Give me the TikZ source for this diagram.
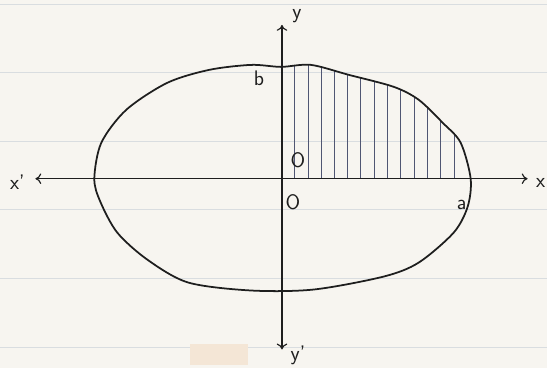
\documentclass[tikz,border=0pt]{standalone}
\usetikzlibrary{arrows.meta}
\definecolor{paper}{HTML}{F7F5F0}
\definecolor{ruled}{HTML}{D9DDE0}
\definecolor{smudge}{HTML}{F4E6D6}
\definecolor{pen}{HTML}{1E1E1E}
\definecolor{hatchpen}{HTML}{505673}
\begin{document}
\begin{tikzpicture}[x=0.03cm, y=-0.03cm, >={To[length=5pt,width=9pt]},
  lbl/.style={font=\sffamily\fontsize{18}{18}\selectfont, inner sep=0pt, text=pen},
  axis/.style={draw=pen, line width=1pt},
  curve/.style={draw=pen, line width=1.5pt, line join=round},
  hatch/.style={draw=hatchpen, line width=0.7pt}]

% Papier
\fill[paper] (0,0) rectangle (547,369);
\foreach \yy in {4,73,142,210,279,348}
  \draw[ruled, line width=0.8pt] (0,\yy) -- (547,\yy);
\fill[smudge] (190,345) rectangle (248,366);

% Contour
\def\contour{plot[smooth cycle, tension=0.5] coordinates {
  (251,65) (281,67) (311,65) (349,75) (394,87) (419,100) (443,123) (461,143)
  (471,179) (468,207) (454,233) (419,263) (384,277) (314,290) (251,291)
  (188,283) (147,260) (117,233) (100,202) (94,179) (101,143) (126,110)
  (167,83) (209,70)}}

% Hachures
\begin{scope}
  \clip \contour;
  \foreach \hx in {294.3,308,321,335,347.7,361,374.3,387.7,401,414.3,427.7,441,454.3}
    \draw[hatch] (\hx,179) -- (\hx,55);
\end{scope}
\draw[curve] \contour;

% Axes
\coordinate (O) at (282,179);
\coordinate (xl) at (35,179);
\coordinate (xr) at (528,179);
\coordinate (yt) at (282,25);
\coordinate (yb) at (282,350);
\draw[axis, <->] (xl) -- (xr);
\draw[axis, <->] (yb) -- (yt);

% Etiquettes
\node[lbl] (xplab) at (17,183) {x'};
\node[lbl] (xlab) at (541,183) {x};
\node[lbl] (ylab) at (297,16) {y};
\node[lbl] (yplab) at (298,356) {y'};
\node[lbl] (blab) at (259,78) {b};
\node[lbl] (oup) at (298,160) {O};
\node[lbl] (odown) at (293,203) {O};
\node[lbl] (alab) at (462,205) {a};

\end{tikzpicture}
\end{document}
